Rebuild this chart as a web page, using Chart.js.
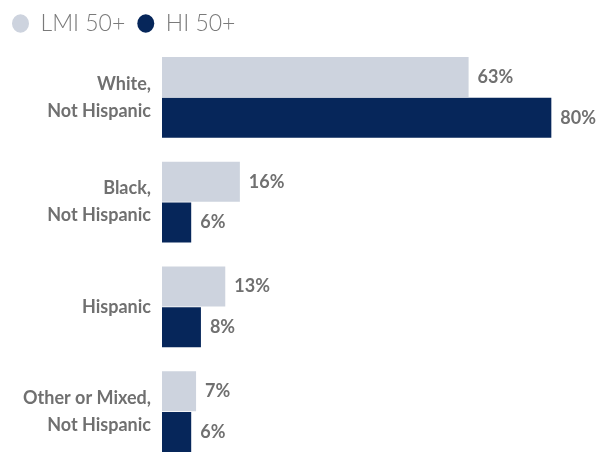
<!DOCTYPE html>
<html>
<head>
<meta charset="utf-8">
<script src="https://cdn.jsdelivr.net/npm/chart.js@4"></script>
<style>
  html, body { margin: 0; padding: 0; background: #fff; overflow: hidden; }
  canvas { display: block; }
</style>
</head>
<body>
<canvas id="raceChart" width="600" height="464"></canvas>
<script>
// categories + values (percent)
var categories = [
    ["White,", "Not Hispanic"],
    ["Black,", "Not Hispanic"],
    "Hispanic",
    ["Other or Mixed,", "Not Hispanic"]
];
var lmiValues = [63, 16, 13, 7];
var hiValues = [80, 6, 8, 6];
var seriesNames = ["LMI 50+", "HI 50+"];

var textGray = "#707070";

// value labels at end of bars
var valueLabels = {
    id: "valueLabels",
    afterDatasetsDraw: function (chart) {
        var ctx = chart.ctx;
        ctx.save();
        ctx.font = "bold 18px Lato";
        ctx.fillStyle = textGray;
        ctx.textAlign = "left";
        ctx.textBaseline = "middle";
        chart.data.datasets.forEach(function (ds, i) {
            var meta = chart.getDatasetMeta(i);
            meta.data.forEach(function (bar, j) {
                ctx.fillText(ds.data[j] + "%", bar.x + 9, bar.y);
            });
        });
        ctx.restore();
    }
};

var ctx1 = document.getElementById("raceChart").getContext("2d");
var myChart = new Chart(ctx1, {
    type: "bar",
    data: {
        labels: categories,
        datasets: [{
            label: seriesNames[0],
            data: lmiValues,
            backgroundColor: "#CDD3DE",
            barPercentage: 0.98,
            categoryPercentage: 0.78
        }, {
            label: seriesNames[1],
            data: hiValues,
            backgroundColor: "#06265A",
            barPercentage: 0.98,
            categoryPercentage: 0.78
        }]
    },
    options: {
        indexAxis: "y",
        responsive: false,
        animation: false,
        layout: { padding: { left: 0, right: 0, top: 0, bottom: 0 } },
        plugins: {
            tooltip: { enabled: false },
            legend: {
                position: "top",
                align: "start",
                labels: {
                    usePointStyle: true,
                    pointStyle: "circle",
                    pointStyleWidth: 17,
                    boxHeight: 13,
                    padding: 12,
                    color: "#7a7a7a",
                    font: { family: "Lato", size: 23, weight: "300" }
                }
            }
        },
        scales: {
            x: {
                display: false,
                min: 0,
                max: 90
            },
            y: {
                grid: { display: false },
                border: { display: false },
                ticks: {
                    color: textGray,
                    padding: 3,
                    font: { family: "Lato", size: 18, weight: "bold", lineHeight: 1.5 }
                },
                afterFit: function (scale) {
                    scale.width = 162;
                    // labels sit inside their category band, no extra inset needed
                    scale.paddingTop = 0;
                    scale.paddingBottom = 0;
                }
            }
        }
    },
    plugins: [valueLabels]
});
</script>
</body>
</html>
